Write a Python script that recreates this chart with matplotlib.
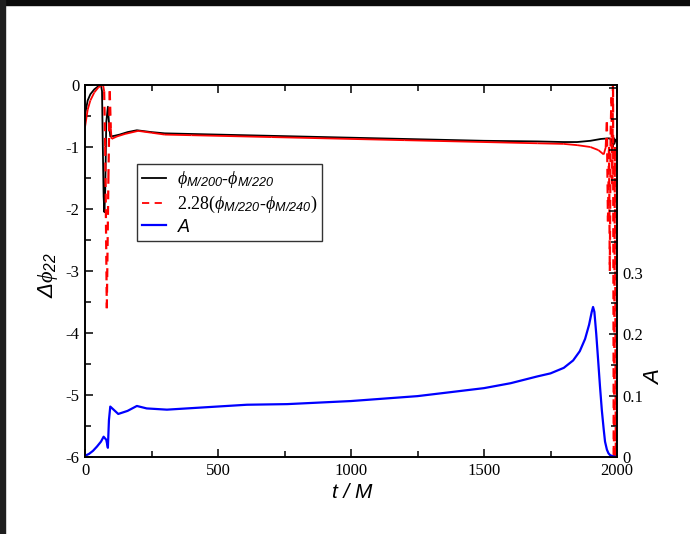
import matplotlib
matplotlib.use('Agg')
import matplotlib.pyplot as plt
import numpy as np
from matplotlib.collections import LineCollection
from matplotlib.lines import Line2D
from matplotlib.patches import Rectangle
from matplotlib.ticker import MultipleLocator, FuncFormatter

# phase difference between resolutions, black: M/200 vs M/220
t_black = [0, 10, 20, 35, 50, 60, 64, 67, 70, 73, 76, 80, 86, 90, 95, 110, 130, 160,
           195, 250, 300, 400, 500, 700, 1000, 1200, 1500, 1700, 1800, 1850, 1900,
           1940, 1970, 1980, 1984, 1987, 1990, 1995, 2000]
dphi_black = [-0.48, -0.25, -0.15, -0.07, -0.02, 0.0, -0.1, -1.0, -1.8, -2.05, -1.7,
              -0.6, -0.35, -0.6, -0.83, -0.82, -0.80, -0.76, -0.73, -0.76, -0.78,
              -0.79, -0.80, -0.82, -0.85, -0.87, -0.90, -0.91, -0.92, -0.92, -0.90,
              -0.87, -0.86, -0.88, -1.0, -0.85, -0.95, -0.88, -0.90]

# scaled difference, red: 2.28 (M/220 vs M/240)
t_red = [0, 10, 20, 35, 50, 60, 68, 72, 76, 82, 88, 93, 97, 100, 120, 150, 200, 250,
         300, 400, 500, 700, 1000, 1200, 1500, 1700, 1800, 1850, 1900, 1930, 1950,
         1958, 1962, 1966, 1970, 1973, 1976, 1979, 1982, 1985, 1988, 1992, 1996, 2000]
dphi_red = [-0.68, -0.40, -0.25, -0.12, -0.04, -0.01, 0.0, -0.1, -1.0, -3.6, -1.5,
            -0.1, -0.7, -0.87, -0.83, -0.79, -0.74, -0.77, -0.80, -0.81, -0.82, -0.84,
            -0.87, -0.89, -0.92, -0.94, -0.95, -0.97, -1.0, -1.05, -1.12, -1.0, -0.6,
            -2.2, -1.0, -3.0, -0.8, -0.2, -1.6, 0.2, -6.5, -1.0, -6.5, -2.0]

# amplitude A (right axis)
t_amp = [0, 15, 30, 45, 60, 70, 80, 86, 90, 95, 105, 125, 160, 195, 232, 308, 458,
         609, 760, 1000, 1250, 1500, 1600, 1700, 1750, 1800, 1835, 1860, 1880, 1895,
         1905, 1910, 1915, 1922, 1929, 1936, 1943, 1950, 1955, 1962, 1968, 1974,
         1985, 2000]
amp = [0.002, 0.005, 0.010, 0.017, 0.025, 0.033, 0.028, 0.015, 0.060, 0.082, 0.078,
       0.070, 0.075, 0.083, 0.079, 0.077, 0.081, 0.085, 0.086, 0.091, 0.099, 0.112,
       0.120, 0.131, 0.136, 0.145, 0.157, 0.172, 0.192, 0.215, 0.236, 0.244, 0.236,
       0.200, 0.158, 0.115, 0.076, 0.045, 0.025, 0.012, 0.006, 0.003, 0.001, 0.0]

plt.rcParams['font.family'] = 'Liberation Serif'
plt.rcParams['axes.unicode_minus'] = False
plt.rcParams['mathtext.fontset'] = 'custom'
plt.rcParams['mathtext.rm'] = 'Liberation Serif'
plt.rcParams['mathtext.it'] = 'Liberation Serif:italic'
plt.rcParams['mathtext.sf'] = 'Liberation Sans:italic'

fig = plt.figure(figsize=(6.9, 5.34), dpi=100)
# dark window edges
fig.patches.append(Rectangle((0, 1 - 5 / 534), 1, 5 / 534, transform=fig.transFigure,
                             color='#0a0a0a', zorder=10))
fig.patches.append(Rectangle((0, 0), 5 / 690, 1, transform=fig.transFigure,
                             color='#1e1e1e', zorder=10))

ax = fig.add_axes([85 / 690, 1 - 457 / 534, 532 / 690, 372 / 534])
ax.plot(t_black, dphi_black, color='black', lw=1.3)

# red: each segment gets its own dash pattern, so short steps look solid
pts = np.column_stack([t_red, dphi_red])
segs = np.stack([pts[:-1], pts[1:]], axis=1)
steep = np.abs(np.diff(dphi_red)) > 0.3
ax.add_collection(LineCollection(segs[~steep], colors='red', linewidths=1.3))
ax.add_collection(LineCollection(segs[steep], colors='red', linewidths=1.6,
                                 linestyles=[(0, (4, 3))]))

ax.set_xlim(0, 2000)
ax.set_ylim(-6, 0)
ax.xaxis.set_major_locator(MultipleLocator(500))
ax.xaxis.set_minor_locator(MultipleLocator(250))
ax.yaxis.set_major_locator(MultipleLocator(1))
ax.yaxis.set_minor_locator(MultipleLocator(0.5))
ax.tick_params(which='both', direction='in', top=True, right=False, labelsize=12,
               width=1.1)
ax.tick_params(which='major', length=6)
ax.tick_params(which='minor', length=4)
ax.tick_params(axis='x', pad=4)
ax.tick_params(axis='y', pad=4)

ax2 = ax.twinx()
ax2.plot(t_amp, amp, color='blue', lw=1.6)
ax2.set_ylim(0, 0.605)
ax2.yaxis.set_major_locator(MultipleLocator(0.1))
ax2.yaxis.set_minor_locator(MultipleLocator(0.05))
ax2.yaxis.set_major_formatter(FuncFormatter(
    lambda v, p: ('0' if abs(v) < 1e-9 else f'{v:.1f}') if v < 0.35 else ''))
ax2.tick_params(which='both', direction='in', labelsize=12, width=1.1, pad=4)
ax2.tick_params(which='major', length=6)
ax2.tick_params(which='minor', length=4)

for a in (ax, ax2):
    for s in a.spines.values():
        s.set_linewidth(1.2)

fig.text(352 / 690, 1 - 492 / 534, 't / M', family='Liberation Sans', style='italic',
         fontsize=15, ha='center', va='center')
fig.text(48 / 690, 1 - 275 / 534, r'$\mathsf{\Delta}\phi_{\mathsf{22}}$', fontsize=16,
         rotation=90, ha='center', va='center')
fig.text(655 / 690, 1 - 378 / 534, 'A', family='Liberation Sans', style='italic',
         fontsize=16, rotation=90, ha='center', va='center')

handles = [
    Line2D([], [], color='black', lw=1.3),
    Line2D([], [], color='red', lw=1.3, linestyle=(0, (4, 3))),
    Line2D([], [], color='blue', lw=1.6),
]
labels = [
    r'$\phi_{\mathsf{M/200}}$-$\phi_{\mathsf{M/220}}$',
    r'2.28($\phi_{\mathsf{M/220}}$-$\phi_{\mathsf{M/240}}$)',
    r'$\mathsf{A}$',
]
leg = ax2.legend(handles, labels, loc='upper left', bbox_to_anchor=(0.0977, 0.7876),
                 fontsize=13, frameon=True, fancybox=False, handlelength=1.3,
                 handletextpad=0.6, labelspacing=0.2, borderpad=0.3,
                 borderaxespad=0)
leg.get_frame().set_edgecolor('black')
leg.get_frame().set_linewidth(1.0)

fig.savefig('out.png', dpi=100)
